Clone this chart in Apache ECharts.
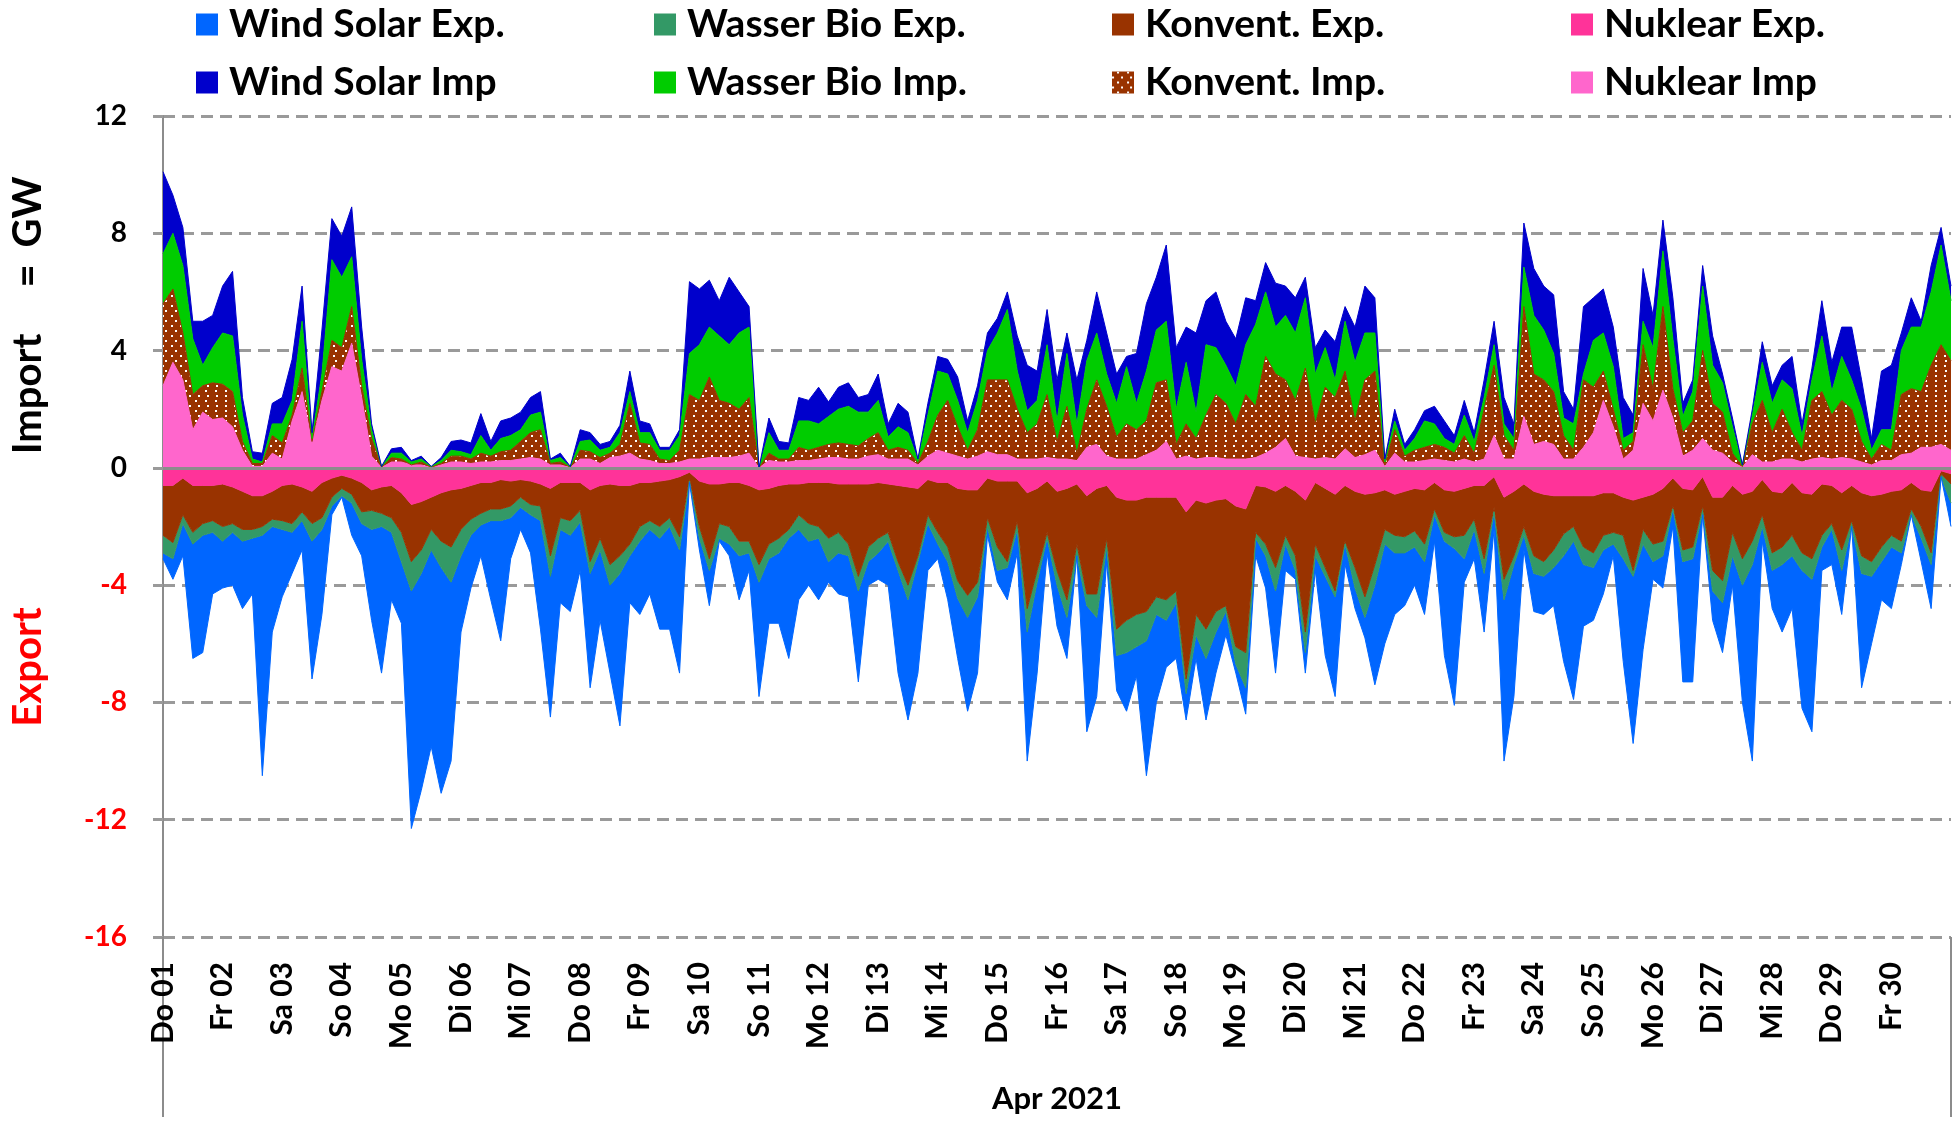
<!DOCTYPE html>
<html>
<head>
<meta charset="utf-8">
<title>Import / Export April 2021</title>
<script src="https://cdn.jsdelivr.net/npm/echarts@6/dist/echarts.min.js"></script>
<style>
  html, body { margin: 0; padding: 0; background: #fff; overflow: hidden; }
  #chart { width: 1953px; height: 1121px; }
</style>
</head>
<body>
<div id="chart"></div>
<script>
// Tageslabels der Achse (Beginn jedes Tages)
var dayLabels = ['Do 01', 'Fr 02', 'Sa 03', 'So 04', 'Mo 05', 'Di 06', 'Mi 07', 'Do 08', 'Fr 09', 'Sa 10',
  'So 11', 'Mo 12', 'Di 13', 'Mi 14', 'Do 15', 'Fr 16', 'Sa 17', 'So 18', 'Mo 19', 'Di 20',
  'Mi 21', 'Do 22', 'Fr 23', 'Sa 24', 'So 25', 'Mo 26', 'Di 27', 'Mi 28', 'Do 29', 'Fr 30'];

// Werte in GW, Stützstellen alle 4 Stunden (eine Zeile = ein Tag), letzter Wert = 30.04. 24:00
var stepHours = 4;

var windSolarImp = [
  2.8, 1.3, 1.3, 0.6, 1.5, 1.1,
  1.6, 2.2, 0.6, 0.25, 0.3, 0.7,
  0.9, 1.4, 1.2, 0.2, 1.5, 1.4,
  1.4, 1.7, 1.1, 0.2, 0.01, 0.15,
  0.2, 0.05, 0.1, 0.01, 0.1, 0.3,
  0.4, 0.4, 0.75, 0.3, 0.6, 0.6,
  0.6, 0.6, 0.7, 0.05, 0.15, 0.02,
  0.4, 0.25, 0.2, 0.2, 0.25, 0.7,
  0.4, 0.3, 0.1, 0.1, 0.2, 2.45,
  1.9, 1.6, 1.2, 2.3, 1.4, 0.7,
  0, 0.5, 0.3, 0.25, 0.8, 0.7,
  1.25, 0.5, 0.75, 0.8, 0.5, 0.6,
  0.9, 0.45, 0.8, 0.7, 0.05, 0.4,
  0.5, 0.5, 0.8, 0.4, 0.5, 0.6,
  0.5, 0.6, 1.2, 1.55, 1.0, 1.2,
  1.4, 0.7, 1.5, 0.7, 1.4, 1.4,
  1.0, 0.35, 1.7, 2.3, 1.8, 2.6,
  2.1, 1.2, 2.7, 1.5, 1.9, 1.5,
  1.6, 1.6, 0.8, 1.0, 1.5, 1.0,
  1.2, 0.7, 0.9, 0.6, 1.3, 0.5,
  1.2, 1.6, 1.2, 0.1, 0.4, 0.2,
  0.3, 0.35, 0.6, 0.6, 0.3, 0.5,
  0.3, 0.6, 0.8, 0.9, 0.5, 1.5,
  1.6, 1.5, 2.0, 0.9, 0.5, 2.3,
  1.45, 1.5, 1.35, 1.4, 0.6, 1.8,
  1.1, 1.05, 1.4, 0.45, 0.4, 0.7,
  1.0, 0.3, 0.3, 0.02, 0.2, 0.7,
  0.6, 0.5, 1.1, 0.4, 0.4, 1.2,
  1.0, 1.0, 1.8, 1.0, 0.4, 2.0,
  2.2, 0.6, 1.0, 0.2, 0.9, 0.6,
  0.5
];

var wasserBioImp = [
  1.7, 1.9, 2.3, 1.9, 0.7, 1.2,
  1.75, 1.9, 0.9, 0.15, 0.05, 0.4,
  0.65, 0.5, 1.6, 0.1, 0.6, 2.75,
  2.4, 1.7, 0.9, 0.3, 0.02, 0.15,
  0.2, 0.1, 0.1, 0.02, 0.1, 0.2,
  0.15, 0.15, 0.6, 0.2, 0.45, 0.5,
  0.4, 0.6, 0.6, 0.1, 0.15, 0.01,
  0.3, 0.4, 0.25, 0.2, 0.4, 0.4,
  0.35, 0.4, 0.3, 0.35, 0.5, 1.4,
  1.9, 1.7, 2.2, 2.0, 2.6, 2.4,
  0, 0.7, 0.3, 0.3, 0.9, 1.0,
  0.8, 0.95, 1.15, 1.3, 1.15, 0.9,
  1.1, 0.45, 0.7, 0.6, 0.1, 0.9,
  1.5, 0.9, 0.9, 0.6, 1.0, 1.0,
  1.6, 2.4, 1.3, 0.75, 0.8, 1.7,
  0.7, 1.8, 1.0, 1.65, 1.6, 1.1,
  1.15, 1.95, 0.9, 1.7, 1.8, 2.0,
  1.2, 2.1, 0.9, 2.4, 1.6, 1.3,
  1.3, 1.7, 2.8, 2.2, 1.6, 2.2,
  2.3, 2.4, 1.7, 1.35, 0.6, 1.7,
  2.0, 1.6, 1.3, 0.1, 0.3, 0.2,
  0.4, 0.9, 0.7, 0.3, 0.3, 0.7,
  0.4, 0.4, 0.7, 0.4, 0.4, 1.35,
  2.0, 1.7, 1.3, 0.6, 0.9, 0.2,
  1.6, 1.3, 1.45, 0.4, 0.3, 0.8,
  1.4, 1.9, 1.7, 0.55, 1.0, 2.2,
  1.3, 1.0, 0.9, 0.03, 0.3, 1.3,
  1.0, 1.0, 1.5, 0.5, 0.7, 1.9,
  0.8, 1.5, 1.0, 1.1, 0.3, 0.5,
  0.7, 1.5, 2.1, 2.2, 2.5, 3.4,
  2.05
];

var konventImp = [
  2.8, 2.5, 1.6, 1.2, 0.9, 1.25,
  1.15, 1.2, 0.3, 0.1, 0.1, 0.6,
  0.55, 0.2, 0.8, 0.05, 0.3, 0.9,
  0.8, 1.25, 0.4, 0.6, 0.01, 0.15,
  0.1, 0, 0.1, 0.01, 0.05, 0.2,
  0.2, 0.15, 0.3, 0.2, 0.3, 0.35,
  0.6, 0.85, 1.0, 0.05, 0.1, 0.01,
  0.3, 0.25, 0.2, 0.15, 0.4, 1.7,
  0.55, 0.55, 0.15, 0.1, 0.4, 2.2,
  2.0, 2.75, 1.95, 1.85, 1.6, 1.9,
  0, 0.25, 0.1, 0.1, 0.45, 0.35,
  0.4, 0.45, 0.5, 0.5, 0.45, 0.6,
  0.75, 0.3, 0.4, 0.3, 0.05, 0.5,
  1.2, 1.8, 1.0, 0.3, 0.9, 2.45,
  2.55, 2.55, 1.7, 0.9, 1.2, 2.15,
  0.6, 1.8, 0.25, 1.3, 2.2, 1.7,
  0.75, 1.2, 1.0, 1.15, 2.3, 2.1,
  0.5, 1.1, 0.7, 1.45, 2.15, 1.9,
  1.2, 2.2, 1.75, 3.3, 2.5, 2.0,
  1.9, 3.05, 1.2, 2.4, 2.1, 2.65,
  1.25, 2.55, 2.7, 0.05, 0.8, 0.2,
  0.4, 0.45, 0.5, 0.45, 0.3, 0.8,
  0.3, 1.7, 2.4, 0.8, 0.3, 3.75,
  2.4, 2.1, 1.8, 0.8, 0.3, 2.3,
  1.55, 1.0, 0.6, 0.3, 0.3, 2.0,
  1.1, 2.85, 1.0, 0.8, 1.0, 3.0,
  1.6, 1.4, 0.3, 0.03, 1.05, 2.1,
  1.0, 1.7, 0.9, 0.4, 2.0, 2.25,
  1.5, 1.95, 1.7, 0.7, 0.2, 0.55,
  0.35, 2.05, 2.2, 1.9, 2.8, 3.4,
  3.05
];

var nuklearImp = [
  2.8, 3.6, 3.0, 1.3, 1.9, 1.65,
  1.7, 1.4, 0.6, 0.05, 0.05, 0.5,
  0.3, 1.6, 2.6, 0.85, 2.3, 3.45,
  3.3, 4.25, 2.4, 0.4, 0.01, 0.2,
  0.2, 0.1, 0.1, 0.01, 0.1, 0.2,
  0.2, 0.15, 0.2, 0.2, 0.25, 0.25,
  0.3, 0.35, 0.3, 0.1, 0.1, 0.01,
  0.3, 0.3, 0.15, 0.35, 0.4, 0.5,
  0.3, 0.25, 0.15, 0.15, 0.2, 0.3,
  0.3, 0.35, 0.35, 0.35, 0.4, 0.5,
  0, 0.25, 0.2, 0.2, 0.25, 0.25,
  0.3, 0.35, 0.35, 0.3, 0.3, 0.4,
  0.45, 0.3, 0.3, 0.3, 0.1, 0.4,
  0.6, 0.5, 0.4, 0.3, 0.4, 0.55,
  0.45, 0.45, 0.3, 0.3, 0.3, 0.35,
  0.3, 0.3, 0.25, 0.7, 0.8, 0.4,
  0.3, 0.3, 0.3, 0.45, 0.6, 0.9,
  0.3, 0.4, 0.3, 0.35, 0.35, 0.3,
  0.3, 0.3, 0.35, 0.5, 0.7, 1.0,
  0.4, 0.35, 0.3, 0.35, 0.3, 0.65,
  0.35, 0.45, 0.6, 0.05, 0.5, 0.2,
  0.2, 0.25, 0.3, 0.25, 0.2, 0.3,
  0.2, 0.3, 1.1, 0.3, 0.3, 1.75,
  0.8, 0.9, 0.8, 0.3, 0.3, 0.7,
  1.2, 2.3, 1.4, 0.3, 0.6, 2.2,
  1.6, 2.65, 1.7, 0.4, 0.6, 1.0,
  0.6, 0.5, 0.2, 0.02, 0.45, 0.2,
  0.2, 0.3, 0.3, 0.2, 0.3, 0.35,
  0.3, 0.35, 0.3, 0.2, 0.1, 0.25,
  0.25, 0.45, 0.5, 0.7, 0.7, 0.8,
  0.6
];

var windSolarExp = [
  -0.2, -0.7, -1.1, -3.9, -4.0, -2.1,
  -1.6, -1.8, -2.3, -1.9, -8.2, -3.6,
  -2.3, -1.4, -1.0, -4.7, -2.9, -0.3,
  -0.05, -1.1, -1.1, -3.1, -5.0, -2.3,
  -2.1, -8.1, -7.4, -6.7, -7.7, -6.1,
  -2.6, -1.8, -1.05, -2.7, -4.1, -1.4,
  -0.75, -1.3, -3.7, -4.8, -2.5, -2.6,
  -1.65, -3.9, -2.4, -3.0, -5.2, -1.6,
  -2.5, -2.2, -3.1, -3.5, -4.2, -0.05,
  -0.4, -1.2, -0.1, -0.4, -1.5, -0.6,
  -3.9, -2.2, -2.4, -4.1, -2.4, -1.5,
  -2.1, -0.7, -1.4, -1.4, -3.1, -0.8,
  -0.9, -1.5, -3.5, -4.1, -3.8, -1.6,
  -0.5, -1.3, -2.05, -3.2, -2.6, -0.3,
  -0.4, -1.1, -0.8, -4.4, -3.1, -0.5,
  -1.4, -1.4, 0, -4.3, -2.7, -0.5,
  -1.2, -2.0, -1.0, -4.6, -3.0, -1.6,
  -1.9, -0.9, -0.8, -2.1, -1.4, -0.8,
  -0.3, -0.9, -0.6, -1.1, -2.8, -0.9,
  -0.3, -0.7, -0.5, -2.7, -3.4, -0.7,
  -0.7, -0.7, -3.4, -3.4, -2.1, -1.8,
  -1.3, -1.8, -0.9, -3.9, -5.35, -0.8,
  -1.0, -2.0, -0.6, -5.5, -4.5, -0.5,
  -1.3, -1.3, -1.3, -3.6, -5.4, -2.1,
  -1.8, -1.5, -0.4, -3.5, -5.7, -3.6,
  -0.6, -1.1, -0.6, -4.1, -4.2, -0.1,
  -1.0, -1.7, -1.0, -4.0, -6.7, -0.5,
  -1.3, -2.3, -1.8, -4.7, -5.2, -0.8,
  -1.2, -1.5, 0, -3.9, -2.3, -1.3,
  -2.1, -0.4, 0, -0.8, -1.5, 0,
  -0.8
];

var wasserBioExp = [
  -0.6, -0.55, -0.3, -0.4, -0.4, -0.4,
  -0.5, -0.3, -0.4, -0.3, -0.3, -0.25,
  -0.3, -0.3, -0.3, -0.6, -0.4, -0.3,
  -0.25, -0.3, -0.4, -0.65, -0.45, -0.5,
  -1.0, -1.0, -0.8, -0.7, -0.9, -1.2,
  -0.9, -0.55, -0.4, -0.4, -0.4, -0.4,
  -0.35, -0.35, -0.5, -0.7, -0.4, -0.5,
  -0.4, -0.4, -0.4, -0.7, -0.6, -0.4,
  -0.5, -0.3, -0.4, -0.3, -0.45, -0.1,
  -0.4, -0.4, -0.5, -0.6, -0.5, -0.4,
  -0.6, -0.5, -0.5, -0.3, -0.5, -0.6,
  -0.4, -0.8, -0.7, -0.4, -0.5, -0.5,
  -0.5, -0.3, -0.3, -0.5, -0.2, -0.3,
  -0.4, -0.5, -0.6, -0.75, -0.5, -0.3,
  -0.8, -0.2, -0.3, -0.8, -0.4, -0.2,
  -0.5, -0.6, -0.4, -0.4, -0.8, -0.3,
  -0.9, -1.1, -1.1, -1.0, -0.6, -0.7,
  -0.4, -0.5, -0.7, -1.0, -0.7, -0.2,
  -0.6, -1.2, -0.2, -0.4, -0.8, -0.3,
  -0.5, -0.7, -0.4, -0.3, -0.2, -0.1,
  -0.7, -0.7, -0.7, -0.5, -0.6, -0.55,
  -0.55, -0.6, -0.2, -0.3, -0.4, -0.8,
  -0.35, -0.5, -0.15, -0.7, -0.3, -0.3,
  -0.6, -0.5, -0.6, -0.75, -0.5, -0.6,
  -0.5, -0.5, -0.4, -0.8, -0.2, -0.5,
  -0.6, -0.5, -0.1, -0.4, -0.4, -0.2,
  -0.7, -0.75, -0.8, -0.9, -0.8, -0.4,
  -0.6, -0.6, -0.7, -0.6, -0.7, -0.4,
  -0.2, -0.7, -0.2, -0.6, -0.5, -0.5,
  -0.4, -0.4, -0.2, -0.4, -0.4, -0.1,
  -0.65
];

var konventExp = [
  -1.7, -1.95, -1.25, -1.6, -1.3, -1.2,
  -1.45, -1.25, -1.3, -1.15, -1.05, -0.95,
  -1.2, -1.35, -0.85, -1.1, -1.2, -0.65,
  -0.45, -0.55, -1.0, -0.7, -0.9, -1.1,
  -1.35, -1.95, -1.65, -1.1, -1.65, -1.95,
  -1.4, -1.15, -1.05, -0.9, -1.0, -0.85,
  -0.6, -0.8, -0.75, -2.3, -1.2, -1.3,
  -0.95, -2.45, -1.8, -2.75, -2.4, -2.0,
  -1.5, -1.3, -1.55, -1.3, -2.05, -0.2,
  -1.55, -2.55, -1.35, -1.5, -2.0, -1.9,
  -2.55, -1.9, -1.8, -1.55, -1.05, -1.4,
  -1.5, -1.9, -1.65, -2.05, -3.15, -2.15,
  -1.9, -1.65, -2.6, -3.35, -2.3, -1.2,
  -1.7, -2.2, -3.15, -3.6, -3.15, -1.35,
  -2.25, -2.75, -1.35, -3.95, -2.8, -1.75,
  -2.7, -3.8, -2.05, -3.35, -3.6, -1.8,
  -4.5, -4.1, -3.9, -3.9, -3.4, -3.5,
  -3.2, -5.7, -3.9, -4.3, -3.8, -3.65,
  -4.8, -4.9, -1.6, -1.95, -2.6, -1.7,
  -2.2, -4.5, -2.1, -2.7, -3.3, -1.9,
  -2.6, -3.5, -2.45, -1.35, -1.4, -1.55,
  -1.45, -1.85, -0.9, -1.45, -1.55, -1.6,
  -1.15, -2.5, -1.05, -2.8, -2.2, -1.45,
  -2.2, -2.3, -1.85, -1.3, -1.05, -1.75,
  -1.95, -1.45, -1.35, -1.3, -2.4, -1.1,
  -1.7, -1.8, -0.95, -2.1, -1.95, -1.0,
  -2.5, -2.85, -1.6, -2.2, -1.7, -1.2,
  -2.1, -1.85, -1.8, -2.05, -2.2, -1.75,
  -1.3, -1.95, -1.2, -2.15, -2.25, -1.8,
  -1.5, -1.75, -0.9, -1.25, -2.1, -0.1,
  -0.35
];

var nuklearExp = [
  -0.6, -0.6, -0.35, -0.6, -0.6, -0.6,
  -0.55, -0.65, -0.8, -0.95, -0.95, -0.8,
  -0.6, -0.55, -0.65, -0.8, -0.5, -0.35,
  -0.25, -0.35, -0.5, -0.75, -0.65, -0.6,
  -0.85, -1.25, -1.15, -1.0, -0.85, -0.75,
  -0.7, -0.6, -0.5, -0.5, -0.4, -0.45,
  -0.4, -0.45, -0.55, -0.7, -0.5, -0.5,
  -0.5, -0.75, -0.6, -0.55, -0.6, -0.6,
  -0.5, -0.5, -0.45, -0.4, -0.3, -0.15,
  -0.45, -0.55, -0.55, -0.5, -0.5, -0.6,
  -0.75, -0.7, -0.6, -0.55, -0.55, -0.5,
  -0.5, -0.5, -0.55, -0.55, -0.55, -0.55,
  -0.5, -0.55, -0.6, -0.65, -0.7, -0.4,
  -0.5, -0.5, -0.7, -0.75, -0.75, -0.35,
  -0.45, -0.45, -0.45, -0.85, -0.7, -0.45,
  -0.8, -0.7, -0.55, -0.95, -0.7, -0.6,
  -1.0, -1.1, -1.1, -1.0, -1.0, -1.0,
  -1.0, -1.5, -1.1, -1.2, -1.1, -1.05,
  -1.3, -1.4, -0.6, -0.65, -0.8, -0.6,
  -0.8, -1.1, -0.5, -0.7, -0.9, -0.6,
  -0.8, -0.9, -0.85, -0.75, -0.9, -0.8,
  -0.7, -0.75, -0.5, -0.75, -0.8, -0.7,
  -0.6, -0.6, -0.3, -1.0, -0.8, -0.55,
  -0.8, -0.9, -0.95, -0.95, -0.95, -0.95,
  -0.95, -0.85, -0.85, -1.0, -1.1, -1.0,
  -0.9, -0.7, -0.35, -0.7, -0.75, -0.3,
  -1.0, -1.0, -0.6, -0.9, -0.8, -0.4,
  -0.8, -0.85, -0.5, -0.85, -0.9, -0.55,
  -0.6, -0.85, -0.6, -0.85, -0.95, -0.9,
  -0.8, -0.75, -0.5, -0.75, -0.8, -0.1,
  -0.2
];

// Stunden seit 01.04. 00:00 als Kategorien
var hours = windSolarImp.map(function (v, i) { return i * stepHours; });
var samplesPerDay = 24 / stepHours;

var seriesDefs = [
  { name: 'Nuklear Imp', stack: 'imp', color: '#ff66cc', data: nuklearImp },
  { name: 'Konvent. Imp.', stack: 'imp', color: '#993300', data: konventImp, dots: true },
  { name: 'Wasser Bio Imp.', stack: 'imp', color: '#00cc00', data: wasserBioImp },
  { name: 'Wind Solar Imp', stack: 'imp', color: '#0000cc', data: windSolarImp },
  { name: 'Nuklear Exp.', stack: 'exp', color: '#ff3399', data: nuklearExp },
  { name: 'Konvent. Exp.', stack: 'exp', color: '#993300', data: konventExp },
  { name: 'Wasser Bio Exp.', stack: 'exp', color: '#339966', data: wasserBioExp },
  { name: 'Wind Solar Exp.', stack: 'exp', color: '#0066ff', data: windSolarExp }
];

// weisse Punkte fuer "Konvent. Imp."
var dotDecal = {
  symbol: 'rect',
  symbolSize: 1,
  color: '#ffffff',
  dashArrayX: [[2, 7], [0, 4.5, 2, 2.5]],
  dashArrayY: [2, 3]
};

var legendRows = [
  ['Wind Solar Exp.', 'Wasser Bio Exp.', 'Konvent. Exp.', 'Nuklear Exp.'],
  ['Wind Solar Imp', 'Wasser Bio Imp.', 'Konvent. Imp.', 'Nuklear Imp']
];
var legendLeft = [196, 654, 1112, 1571];
var legendTop = [5, 63];

var legends = [];
legendRows.forEach(function (row, r) {
  row.forEach(function (name, c) {
    legends.push({
      data: [name],
      left: legendLeft[c],
      top: legendTop[r],
      orient: 'horizontal',
      padding: 0,
      icon: 'rect',
      itemWidth: 22,
      itemHeight: 22,
      selectedMode: false,
      textStyle: { fontFamily: 'Lato', fontSize: 39, fontWeight: 'bold', color: '#000', padding: [0, 0, 0, 6] }
    });
  });
});

var series = seriesDefs.map(function (d) {
  var s = {
    name: d.name,
    type: 'line',
    stack: d.stack,
    stackStrategy: 'all',
    data: d.data,
    color: d.color,
    symbol: 'none',
    showSymbol: false,
    smooth: false,
    sampling: 'none',
    lineStyle: { width: 1, color: d.color },
    areaStyle: { color: d.color, opacity: 1 },
    emphasis: { disabled: true },
    silent: true
  };
  if (d.dots) {
    s.lineStyle.decal = dotDecal;
    s.itemStyle = { decal: dotDecal };
  }
  return s;
});

// durchgezogene Nulllinie ueber den Flaechen
series[series.length - 1].markLine = {
  silent: true,
  symbol: ['none', 'none'],
  label: { show: false },
  lineStyle: { color: '#8c8c8c', width: 3, type: 'solid' },
  data: [{ yAxis: 0 }],
  animation: false
};

var axisTitleFont = 'bold 40px Lato';
var option = {
  animation: false,
  backgroundColor: '#ffffff',
  textStyle: { fontFamily: 'Lato' },
  legend: legends,
  grid: { left: 163, right: 2, top: 116, bottom: 184, containLabel: false, outerBoundsMode: 'none' },
  xAxis: {
    type: 'category',
    data: hours,
    boundaryGap: false,
    axisLine: { show: false, onZero: false },
    axisTick: {
      show: true,
      length: 180,
      interval: function (i) { return i === 0 || i === hours.length - 1; },
      lineStyle: { color: '#8c8c8c', width: 2 }
    },
    axisLabel: {
      interval: function (i) { return i % samplesPerDay === 0 && i < hours.length - 1; },
      formatter: function (v, i) { return dayLabels[Math.round(i / samplesPerDay)]; },
      rotate: 90,
      margin: 25,
      width: 120,
      overflow: 'none',
      hideOverlap: false,
      fontFamily: 'Lato',
      fontSize: 30,
      fontWeight: 'bold',
      color: '#000'
    },
    splitLine: { show: false },
    name: 'Apr 2021',
    nameLocation: 'middle',
    nameGap: 146,
    nameTextStyle: { fontFamily: 'Lato', fontSize: 31, fontWeight: 'bold', color: '#000' }
  },
  yAxis: {
    type: 'value',
    min: -16,
    max: 12,
    interval: 4,
    axisLine: { show: true, lineStyle: { color: '#8c8c8c', width: 2 } },
    axisTick: { show: true, length: 10, lineStyle: { color: '#9a9a9a', width: 3 } },
    axisLabel: {
      margin: 36,
      fontFamily: 'Lato',
      fontSize: 28,
      fontWeight: 'bold',
      color: function (v) { return Number(v) < 0 ? '#ff0000' : '#000000'; }
    },
    splitLine: { show: true, lineStyle: { color: '#9a9a9a', width: 3, type: [12, 7] } }
  },
  graphic: [
    { type: 'text', x: 28, y: 212, rotation: Math.PI / 2,
      style: { text: 'GW', font: axisTitleFont, fill: '#000', textAlign: 'center', textVerticalAlign: 'middle', align: 'center', verticalAlign: 'middle' } },
    { type: 'text', x: 28, y: 276, rotation: Math.PI / 2,
      style: { text: '=', font: axisTitleFont, fill: '#000', textAlign: 'center', textVerticalAlign: 'middle', align: 'center', verticalAlign: 'middle' } },
    { type: 'text', x: 28, y: 394, rotation: Math.PI / 2,
      style: { text: 'Import', font: axisTitleFont, fill: '#000', textAlign: 'center', textVerticalAlign: 'middle', align: 'center', verticalAlign: 'middle' } },
    { type: 'text', x: 28, y: 667, rotation: Math.PI / 2,
      style: { text: 'Export', font: axisTitleFont, fill: '#ff0000', textAlign: 'center', textVerticalAlign: 'middle', align: 'center', verticalAlign: 'middle' } }
  ],
  series: series
};

var chart = echarts.init(document.getElementById('chart'), null, { renderer: 'canvas' });
chart.setOption(option);
</script>
</body>
</html>
